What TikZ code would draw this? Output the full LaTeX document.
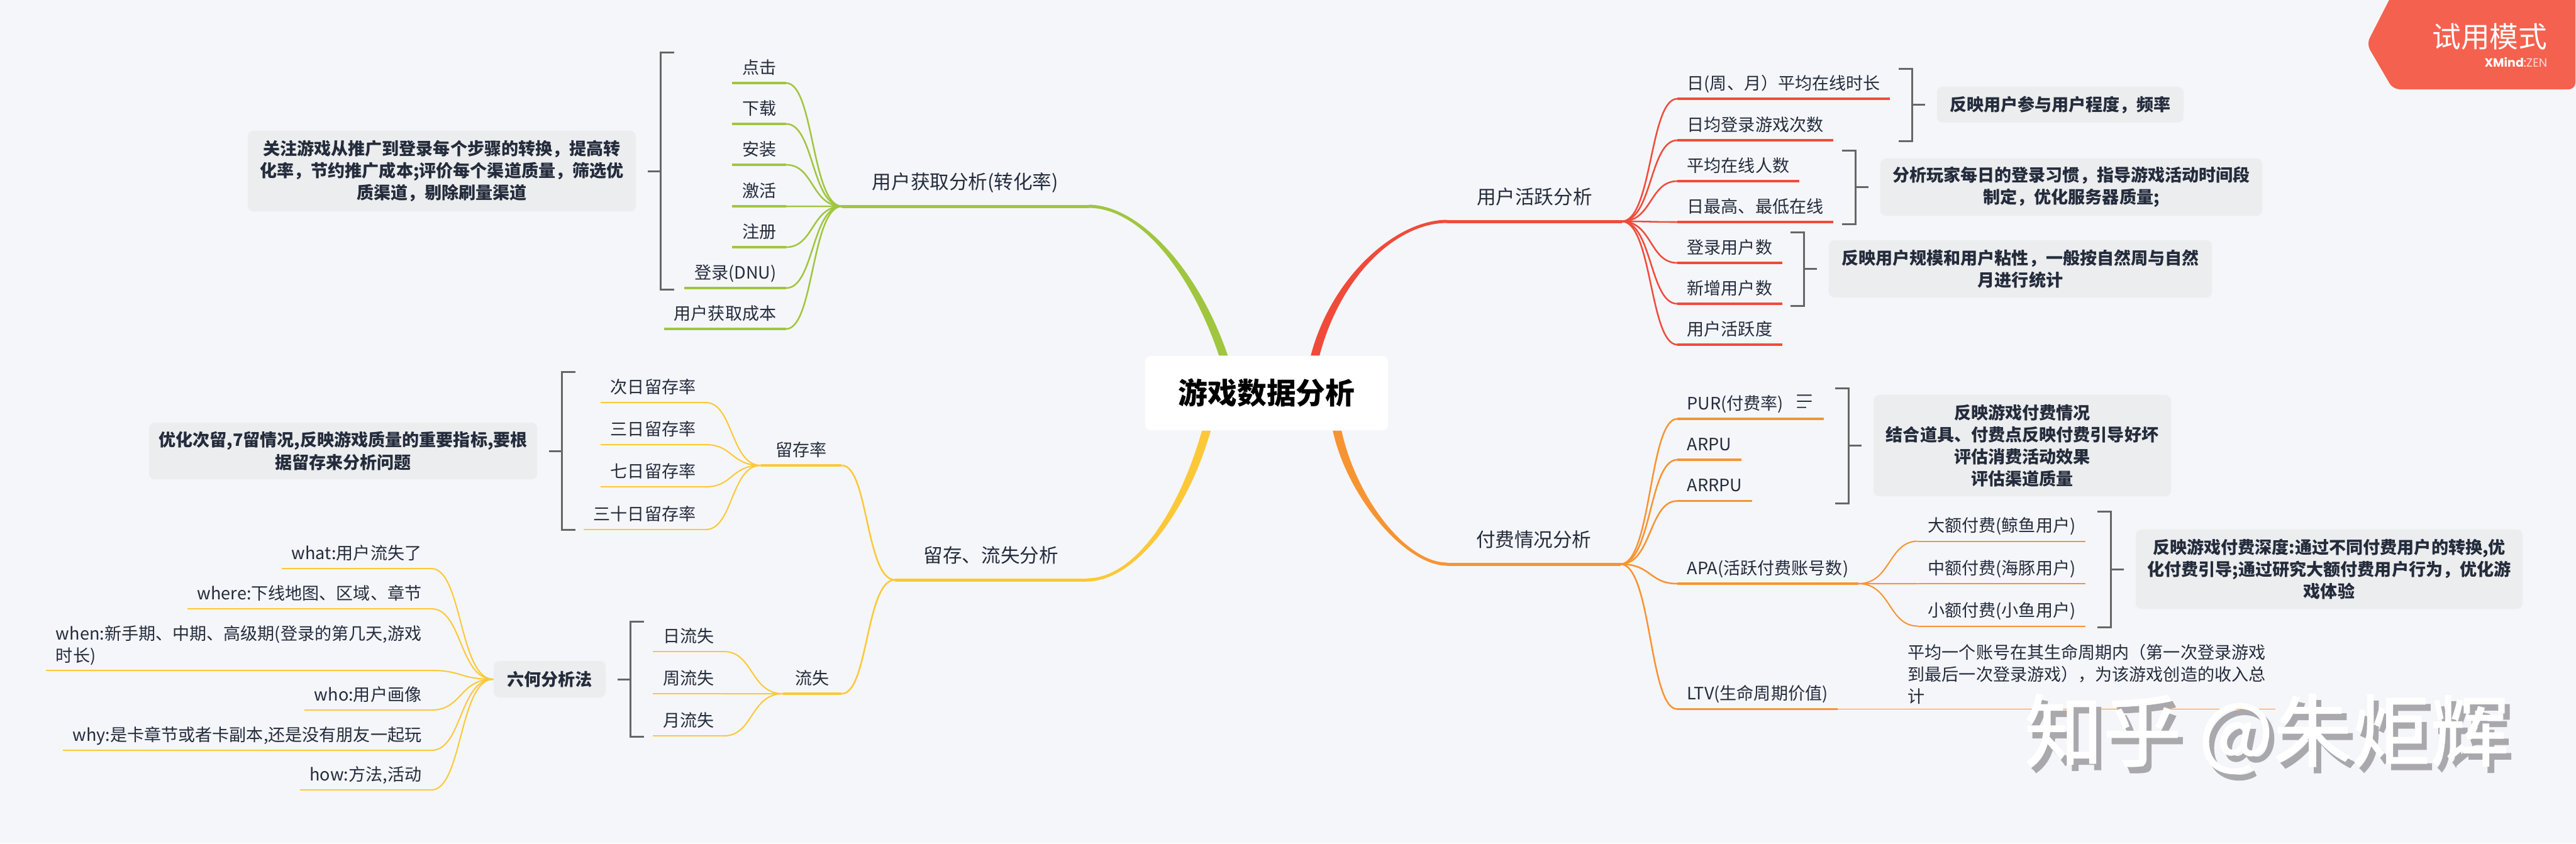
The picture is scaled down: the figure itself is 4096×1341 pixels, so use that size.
\documentclass[tikz,border=0pt]{standalone}
\usepackage{fontspec}
\setmainfont{Noto Sans CJK SC}
\newfontfamily\xmfont{Poppins}
\newfontfamily\wmfont[FakeBold=1.4]{Noto Sans CJK SC}
\usetikzlibrary{calc}
\definecolor{cbg}{HTML}{F5F6FA}
\definecolor{cink}{HTML}{242C3C}
\definecolor{cnote}{HTML}{ECEDEE}
\definecolor{cbrk}{HTML}{666666}
\definecolor{cgrn}{HTML}{A0C63F}
\definecolor{cred}{HTML}{F04B3A}
\definecolor{cylw}{HTML}{FCC838}
\definecolor{corg}{HTML}{F79432}
\definecolor{cban}{HTML}{F5614F}
\definecolor{cshd}{HTML}{A9A9AD}
\tikzset{
  txt/.style     ={text=cink, inner xsep=4.27pt, inner ysep=2.5pt,
                   font=\fontsize{7.7}{10}\selectfont},
  leaf/.style    ={txt, text height=6.2pt, text depth=1.5pt},
  leafw/.style   ={txt, align=left, inner ysep=2pt},
  bough/.style   ={text=cink, inner xsep=0pt, inner ysep=5.9pt, text height=7pt, text depth=1.7pt,
                   font=\fontsize{8.7}{11}\selectfont},
  note/.style    ={fill=cnote, rounded corners=2.6pt, align=center, inner sep=0pt, text=cink,
                   font=\fontsize{7.7}{10}\selectfont\bfseries},
  rootbox/.style ={fill=white, rounded corners=2.6pt, inner sep=0pt, text=black,
                   minimum width=3.86cm, minimum height=1.18cm,
                   font=\fontsize{13.3}{16}\selectfont\bfseries},
  brk/.style     ={draw=cbrk, line width=.85pt},
  fine/.style    ={line width=.58pt},
  twigline/.style={line width=.72pt},
  topline/.style ={line width=1pt},
  wmk/.style     ={inner sep=0pt, font=\fontsize{35.5}{40}\wmfont},
}
% curve from a hub to the end of a topic, plus the topic's underline
\newcommand{\twig}[4]{%
  \draw[twigline,#1] (#2) .. controls ($(#2)!.55!(#2-|#3.south #4)$) and ($(#2|-#3.south #4)!.5!(#3.south #4)$) .. (#3.south #4);
  \draw[topline,#1] (#3.south west) -- (#3.south east);}
% tapered trunk from a main topic into the root box
\newcommand{\limb}[7]{%
  \draw[#1,line width=1.42pt] (#2.south west) -- (#2.south east);
  \fill[#1] ($(#2.south #3)+(0,-2.5)$) .. controls ($(#2.south #3)+(#5)+(0,-2.5)$) and ($(#4)+(#6)+(#7*7,0)$) .. ($(#4)+(#7*7,0)$)
    -- ($(#4)+(#7*-7,0)$) .. controls ($(#4)+(#6)+(#7*-7,0)$) and ($(#2.south #3)+(#5)+(0,2.5)$) .. ($(#2.south #3)+(0,2.5)$) -- cycle;}
% bracket that ties a note to its topics
\newcommand{\grp}[3]{%
  \draw[brk] ($(#1)+(#2*60,-#3)$) -- ($(#1)+(#2*39,-#3)$) -- ($(#1)+(#2*39,#3)$) -- ($(#1)+(#2*60,#3)$);
  \draw[brk] ($(#1)+(#2*18,0)$) -- ($(#1)+(#2*39,0)$);}

\begin{document}
\begin{tikzpicture}[x=0.01cm,y=-0.01cm]
  \useasboundingbox (0,0) rectangle (4096,1341);
  \fill[cbg] (0,0) rectangle (4096,1341);

  \node[rootbox] (root) at (2014,625) {游戏数据分析};
  \coordinate (gtip) at ($(root.north west)+(125,0)$);
  \coordinate (ytip) at ($(root.south west)+(98,0)$);
  \coordinate (rtip) at ($(root.north west)+(271,0)$);
  \coordinate (otip) at ($(root.south west)+(306,0)$);

  % ---- user acquisition ----------------------------------------------
  \node[bough, minimum width=3.9cm, anchor=south west] (acq) at (1339,328) {用户获取分析(转化率)};
  \node[leaf, anchor=south east] (click) at (1250,132) {点击};
  \node[leaf, anchor=south east] (down)  at (1250,197) {下载};
  \node[leaf, anchor=south east] (inst)  at (1250,262) {安装};
  \node[leaf, anchor=south east] (activ) at (1250,328) {激活};
  \node[leaf, anchor=south east] (reg)   at (1250,393) {注册};
  \node[leaf, anchor=south east] (dnu)   at (1250,458) {登录(DNU)};
  \node[leaf, anchor=south east] (cost)  at (1250,523) {用户获取成本};
  \node[note, minimum width=6.17cm, minimum height=1.28cm] (nacq) at (702.5,272)
        {关注游戏从推广到登录每个步骤的转换，提高转\\化率，节约推广成本;评价每个渠道质量，筛选优\\质渠道，剔除刷量渠道};
  \limb{cgrn}{acq}{east}{gtip}{81,0}{-46,-136}{1}
  \twig{cgrn}{acq.south west}{click}{east}
  \twig{cgrn}{acq.south west}{down}{east}
  \twig{cgrn}{acq.south west}{inst}{east}
  \twig{cgrn}{acq.south west}{activ}{east}
  \twig{cgrn}{acq.south west}{reg}{east}
  \twig{cgrn}{acq.south west}{dnu}{east}
  \twig{cgrn}{acq.south west}{cost}{east}
  \grp{nacq.east}{1}{188.5}

  % ---- retention and churn -------------------------------------------
  \node[bough, minimum width=3.04cm, anchor=south west] (keep) at (1423,922) {留存、流失分析};
  \node[leaf, minimum width=1.27cm, anchor=south west] (rate) at (1210,740) {留存率};
  \node[leaf, minimum width=.92cm, anchor=south west] (lost) at (1245,1103) {流失};
  \node[leaf, anchor=south east] (day1)  at (1122,640) {次日留存率};
  \node[leaf, anchor=south east] (day3)  at (1122,707) {三日留存率};
  \node[leaf, anchor=south east] (day7)  at (1122,774) {七日留存率};
  \node[leaf, anchor=south east] (day30) at (1122,842) {三十日留存率};
  \node[note, minimum width=6.17cm, minimum height=.9cm] (nrate) at (545.5,717)
        {优化次留,7留情况,反映游戏质量的重要指标,要根\\据留存来分析问题};
  \node[leaf, anchor=south east] (dayl)  at (1151,1036) {日流失};
  \node[leaf, anchor=south east] (weekl) at (1151,1103) {周流失};
  \node[leaf, anchor=south east] (monl)  at (1151,1170) {月流失};
  \node[note, minimum width=1.78cm, minimum height=.58cm] (six) at (874,1080) {六何分析法};
  \node[leaf, anchor=south east] (what)  at (686,904)  {what:用户流失了};
  \node[leaf, anchor=south east] (where) at (686,968)  {where:下线地图、区域、章节};
  \node[leafw, anchor=south east] (when) at (686,1066) {when:新手期、中期、高级期(登录的第几天,游戏\\时长)};
  \node[leaf, anchor=south east] (who)   at (686,1129) {who:用户画像};
  \node[leaf, anchor=south east] (why)   at (686,1193) {why:是卡章节或者卡副本,还是没有朋友一起玩};
  \node[leaf, anchor=south east] (how)   at (686,1256) {how:方法,活动};
  \limb{cylw}{keep}{east}{ytip}{73,0}{-39,136}{-1}
  \twig{cylw}{keep.south west}{rate}{east}
  \twig{cylw}{keep.south west}{lost}{east}
  \twig{cylw,fine}{rate.south west}{day1}{east}
  \twig{cylw,fine}{rate.south west}{day3}{east}
  \twig{cylw,fine}{rate.south west}{day7}{east}
  \twig{cylw,fine}{rate.south west}{day30}{east}
  \twig{cylw,fine}{lost.south west}{dayl}{east}
  \twig{cylw,fine}{lost.south west}{weekl}{east}
  \twig{cylw,fine}{lost.south west}{monl}{east}
  \twig{cylw,fine}{six.west}{what}{east}
  \twig{cylw,fine}{six.west}{where}{east}
  \twig{cylw,fine}{six.west}{when}{east}
  \twig{cylw,fine}{six.west}{who}{east}
  \twig{cylw,fine}{six.west}{why}{east}
  \twig{cylw,fine}{six.west}{how}{east}
  \grp{nrate.east}{1}{125.5}
  \grp{six.east}{1}{91.5}

  % ---- user activity -------------------------------------------------
  \node[bough, minimum width=2.76cm, anchor=south west] (act) at (2301,352) {用户活跃分析};
  \node[leaf, anchor=south west] (ontime) at (2667,157) {日(周、月）平均在线时长};
  \node[leaf, anchor=south west] (logins) at (2667,223) {日均登录游戏次数};
  \node[leaf, anchor=south west] (avgon)  at (2667,288) {平均在线人数};
  \node[leaf, anchor=south west] (peak)   at (2667,353) {日最高、最低在线};
  \node[leaf, anchor=south west] (dau)    at (2667,418) {登录用户数};
  \node[leaf, anchor=south west] (fresh)  at (2667,483) {新增用户数};
  \node[leaf, anchor=south west] (live)   at (2667,548) {用户活跃度};
  \node[note, minimum width=3.92cm, minimum height=.57cm] (nact1) at (3276,166.5) {反映用户参与用户程度，频率};
  \node[note, minimum width=6.07cm, minimum height=.91cm] (nact2) at (3293.5,297.5)
        {分析玩家每日的登录习惯，指导游戏活动时间段\\制定，优化服务器质量;};
  \node[note, minimum width=6.09cm, minimum height=.91cm] (nact3) at (3212.5,427.5)
        {反映用户规模和用户粘性，一般按自然周与自然\\月进行统计};
  \limb{cred}{act}{west}{rtip}{-81,0}{33,-126}{-1}
  \twig{cred}{act.south east}{ontime}{west}
  \twig{cred}{act.south east}{logins}{west}
  \twig{cred}{act.south east}{avgon}{west}
  \twig{cred}{act.south east}{peak}{west}
  \twig{cred}{act.south east}{dau}{west}
  \twig{cred}{act.south east}{fresh}{west}
  \twig{cred}{act.south east}{live}{west}
  \grp{nact1.west}{-1}{57.5}
  \grp{nact2.west}{-1}{58.5}
  \grp{nact3.west}{-1}{58.5}

  % ---- payment -------------------------------------------------------
  \node[bough, minimum width=2.74cm, anchor=south west] (pay) at (2301,897) {付费情况分析};
  \node[leaf, anchor=south west, text width=2.01cm] (pur) at (2667,666) {PUR(付费率)};
  \node[leaf, anchor=south west] (arpu)  at (2667,731) {ARPU};
  \node[leaf, anchor=south west] (arrpu) at (2667,796.5) {ARRPU};
  \node[leaf, anchor=south west] (apa)   at (2667,928) {APA(活跃付费账号数)};
  \node[leaf, anchor=south west] (ltv)   at (2667,1127.5) {LTV(生命周期价值)};
  \node[note, minimum width=4.73cm, minimum height=1.61cm] (npay) at (3215.5,708.5)
        {反映游戏付费情况\\结合道具、付费点反映付费引导好坏\\评估消费活动效果\\评估渠道质量};
  \node[leaf, anchor=south east] (whale)   at (3316,860.5) {大额付费(鲸鱼用户)};
  \node[leaf, anchor=south east] (dolphin) at (3316,928)   {中额付费(海豚用户)};
  \node[leaf, anchor=south east] (minnow)  at (3316,995.5) {小额付费(小鱼用户)};
  \node[note, minimum width=6.15cm, minimum height=1.26cm] (napa) at (3703.5,905)
        {反映游戏付费深度:通过不同付费用户的转换,优\\化付费引导;通过研究大额付费用户行为，优化游\\戏体验};
  \node[leafw, anchor=south west] (ltvd) at (3018,1127.5)
        {平均一个账号在其生命周期内（第一次登录游戏\\到最后一次登录游戏），为该游戏创造的收入总\\计};
  \node[minimum width=.22cm, minimum height=.18cm, inner sep=0pt] (outl) at (2869,638) {};
  \limb{corg}{pay}{west}{otip}{-66,0}{23,106}{1}
  \twig{corg}{pay.south east}{pur}{west}
  \twig{corg}{pay.south east}{arpu}{west}
  \twig{corg}{pay.south east}{arrpu}{west}
  \twig{corg}{pay.south east}{apa}{west}
  \twig{corg}{pay.south east}{ltv}{west}
  \twig{corg,fine}{apa.south east}{whale}{west}
  \twig{corg,fine}{apa.south east}{dolphin}{west}
  \twig{corg,fine}{apa.south east}{minnow}{west}
  \draw[corg,line width=.5pt] (ltv.south east) -- (ltvd.south east);
  \draw[cink,line width=.55pt] (outl.north west) -- (outl.north east)
        (outl.west) -- (outl.east)
        (outl.south west) -- ($(outl.south west)!.62!(outl.south east)$);
  \grp{npay.west}{-1}{91.5}
  \grp{napa.west}{-1}{92}

  % ---- trial banner and watermark ------------------------------------
  \fill[cban, rounded corners=3pt] (3805,-12) -- (3763,70) -- (3805,142) -- (4095,142) -- (4095,-12) -- cycle;
  \node[text=white, inner sep=0pt, anchor=east, font=\fontsize{13}{15}\selectfont] (trial) at (4051,58) {试用模式};
  \node[text=white, inner sep=0pt, anchor=east, font=\fontsize{5.4}{6}\xmfont] (xmind) at (4051,99)
        {\textbf{XMind}:\textcolor{white!75!cban}{ZEN}};
  \node[wmk, text=cshd] (wshadow) at (3612,1177) {知乎 @朱炬辉};
  \node[wmk, text=white] (wmark) at (3604,1167) {知乎 @朱炬辉};
\end{tikzpicture}
\end{document}
